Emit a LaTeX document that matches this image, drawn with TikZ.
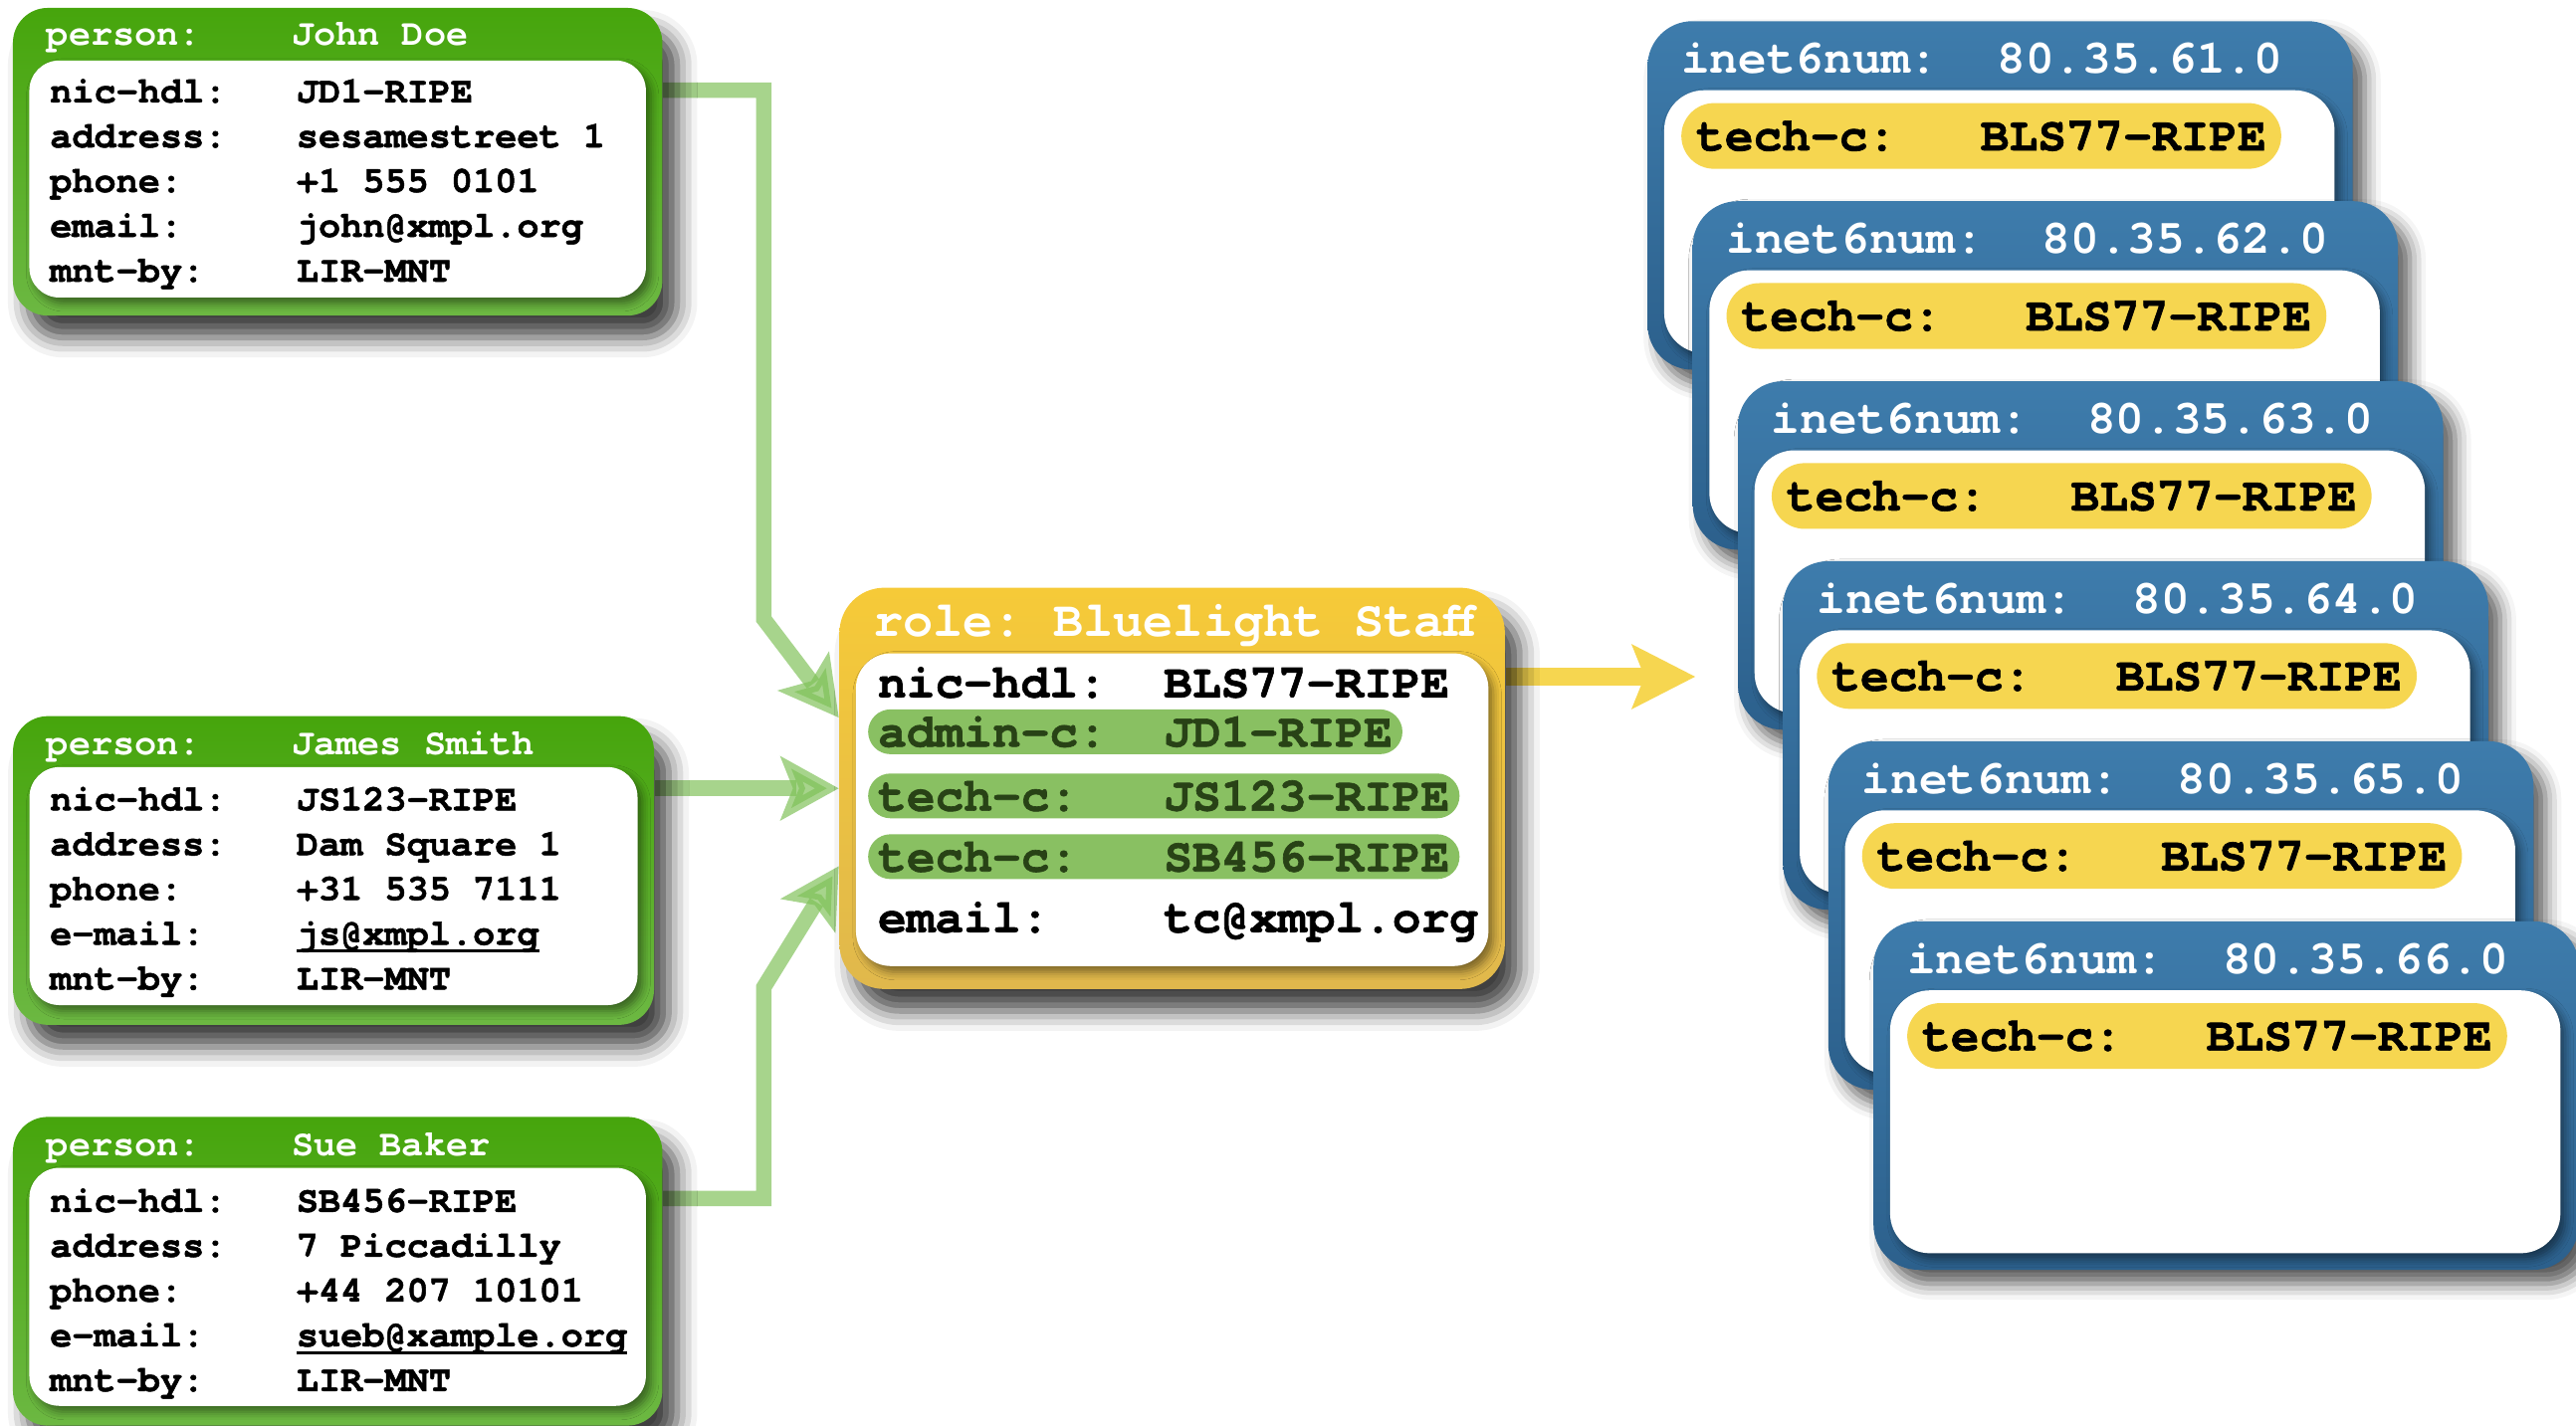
\documentclass[tikz,border=0pt]{standalone}
\usepackage{fontspec}
\setmonofont{texgyrecursor}[Extension=.otf,UprightFont=*-regular,BoldFont=*-bold]
\newfontfamily\heavytt{texgyrecursor}[Extension=.otf,UprightFont=*-bold,BoldFont=*-bold,
  BoldFeatures={FakeBold=1.3},UprightFeatures={FakeBold=1.3}]
\usetikzlibrary{arrows.meta,shadows.blur,backgrounds}

\definecolor{grnA}{RGB}{70,165,12}
\definecolor{grnB}{RGB}{108,184,66}
\definecolor{grnPill}{RGB}{137,192,98}
\definecolor{grnText}{RGB}{40,66,22}
\definecolor{grnLink}{RGB}{127,193,88}
\definecolor{yelA}{RGB}{246,202,56}
\definecolor{yelB}{RGB}{224,184,76}
\definecolor{yelPill}{RGB}{246,214,80}
\definecolor{bluA}{RGB}{62,124,172}
\definecolor{bluB}{RGB}{44,96,140}

\newcommand\mailline[1]{\setbox0\hbox{#1}\rlap{\rule[-2.2pt]{\wd0}{0.8pt}}#1}

\begin{document}
\begin{tikzpicture}[x=0.0165cm,y=-0.0165cm,
    >={Stealth[length=0.58cm,width=0.63cm,inset=0.12cm]},
    small/.style={font=\heavytt\fontsize{10.5}{12.8}\selectfont},
    big/.style={font=\heavytt\fontsize{13.6}{16}\selectfont},
    small title/.style={font=\ttfamily\bfseries\fontsize{10.5}{12.8}\selectfont},
    big title/.style={font=\ttfamily\bfseries\fontsize{13.6}{16}\selectfont},
    person/.style={rounded corners=0.35cm,inner sep=0pt,top color=grnA,bottom color=grnB,
      blur shadow={shadow xshift=0.15cm,shadow yshift=-0.22cm,shadow blur radius=0.2cm,shadow opacity=75}},
    role box/.style={rounded corners=0.45cm,inner sep=0pt,top color=yelA,bottom color=yelB,
      blur shadow={shadow xshift=0.15cm,shadow yshift=-0.22cm,shadow blur radius=0.2cm,shadow opacity=75}},
    inet/.style={rounded corners=0.45cm,inner sep=0pt,top color=bluA,bottom color=bluB,
      minimum width=7.08cm,minimum height=3.5cm,
      blur shadow={shadow xshift=0.12cm,shadow yshift=-0.14cm,shadow blur radius=0.16cm,shadow opacity=65}},
    sheet/.style={rounded corners=0.3cm,inner sep=0pt,fill=white,
      blur shadow={shadow xshift=0.05cm,shadow yshift=-0.06cm,shadow blur radius=0.08cm,shadow opacity=45}},
    title/.style={anchor=mid west,inner sep=0pt,text=white},
    row/.style={anchor=mid west,inner sep=0pt},
    pill/.style={anchor=mid west,inner xsep=0.1cm,inner ysep=0pt,minimum height=0.45cm,rounded corners=0.225cm},
    link/.style={->,draw=grnLink,opacity=0.69,line width=0.155cm},
    feed/.style={-{Stealth[length=0.63cm,width=0.63cm,inset=0.12cm]},draw=yelPill,line width=0.17cm}]

  \useasboundingbox (0,0) rectangle (1568,868);

  % persons
  \node[person,minimum width=6.52cm,minimum height=3.09cm] (jd) at (205.5,98.5) {};
  \node[sheet,minimum width=6.19cm,minimum height=2.38cm] (jdsheet) at (205.5,109) {};
  \node[small title,title] (jdname) at (28,23) {\makebox[2.46cm][l]{person:}John Doe};
  \node[small,row,anchor=west] (jdrows) at (30,111.5) {\begin{tabular}{@{}p{2.475cm}@{}l@{}}
      nic-hdl: & JD1-RIPE\\ address: & sesamestreet 1\\ phone: & +1 555 0101\\
      email: & john@xmpl.org\\ mnt-by: & LIR-MNT\end{tabular}};

  \node[person,minimum width=6.435cm,minimum height=3.1cm] (js) at (203,530) {};
  \node[sheet,minimum width=6.105cm,minimum height=2.39cm] (jssheet) at (203,539.5) {};
  \node[small title,title] (jsname) at (28,455) {\makebox[2.46cm][l]{person:}James Smith};
  \node[small,row,anchor=west] (jsrows) at (30,542.5) {\begin{tabular}{@{}p{2.475cm}@{}l@{}}
      nic-hdl: & JS123-RIPE\\ address: & Dam Square 1\\ phone: & +31 535 7111\\
      e-mail: & \mailline{js@xmpl.org}\\ mnt-by: & LIR-MNT\end{tabular}};

  \node[person,minimum width=6.52cm,minimum height=3.1cm] (sb) at (205.5,774) {};
  \node[sheet,minimum width=6.19cm,minimum height=2.39cm] (sbsheet) at (205.5,783.5) {};
  \node[small title,title] (sbname) at (28,699) {\makebox[2.46cm][l]{person:}Sue Baker};
  \node[small,row,anchor=west] (sbrows) at (30,787) {\begin{tabular}{@{}p{2.475cm}@{}l@{}}
      nic-hdl: & SB456-RIPE\\ address: & 7 Piccadilly\\ phone: & +44 207 10101\\
      e-mail: & \mailline{sueb@xample.org}\\ mnt-by: & LIR-MNT\end{tabular}};

  % role
  \node[role box,minimum width=6.68cm,minimum height=4.03cm] (role) at (713.5,480) {};
  \node[sheet,minimum width=6.35cm,minimum height=3.14cm,rounded corners=0.35cm] (rolesheet) at (713.5,493) {};
  \node[big title,title,font=\ttfamily\bfseries\fontsize{14.3}{16}\selectfont] (roletitle) at (531,383)
    {\makebox[1.81cm][l]{role:}\makebox[3.016cm][l]{Bluelight}Staff};
  \node[big,row] (rolenic) at (534,420) {\makebox[2.87cm][l]{nic-hdl:}BLS77-RIPE};
  \node[big,pill,fill=grnPill,text=grnText] (roleadmin) at (528,450) {\makebox[2.87cm][l]{admin-c:}JD1-RIPE\hspace{0.2cm}};
  \node[big,pill,fill=grnPill,text=grnText] (roletechA) at (528,489) {\makebox[2.87cm][l]{tech-c:}JS123-RIPE};
  \node[big,pill,fill=grnPill,text=grnText] (roletechB) at (528,526) {\makebox[2.87cm][l]{tech-c:}SB456-RIPE};
  \node[big,row] (rolemail) at (534,563) {\makebox[2.87cm][l]{email:}tc@xmpl.org};

  % inet6num stack
  \foreach \i/\net in {0/61,1/62,2/63,3/64,4/65,5/66}{
    \node[inet] (inet\net) at (1217.5+27.5*\i,119+109.6*\i) {};
    \node[sheet,minimum width=6.73cm,minimum height=2.64cm,rounded corners=0.4cm] (inetsheet\net) at (1217+27.5*\i,135+109.6*\i) {};
    \node[big title,title] (inettitle\net) at (1023+27.5*\i,40+109.6*\i) {\makebox[3.17cm][l]{inet6num:}80.35.\net.0};
    \node[big,pill,fill=yelPill,inner xsep=0.15cm,minimum height=0.66cm,rounded corners=0.33cm]
      (inettech\net) at (1023+27.5*\i,87+109.6*\i) {\makebox[2.855cm][l]{tech-c:}BLS77-RIPE};
  }

  \coordinate (jdbend) at (465,377);
  \coordinate (sbbend) at (465,601);
  \coordinate (feedend) at (1032,412);

  \begin{scope}[on background layer]
    \draw[link] ([yshift=0.72cm]jd.east) -| (jdbend) -- ([yshift=0.71cm]role.west);
    \draw[link] (js.east |- role.west) -- (role.west);
    \draw[link] ([yshift=0.73cm]sb.east) -| (sbbend) -- ([yshift=-0.78cm]role.west);
    \draw[feed] (role.east |- feedend) -- (feedend);
  \end{scope}

\end{tikzpicture}
\end{document}
